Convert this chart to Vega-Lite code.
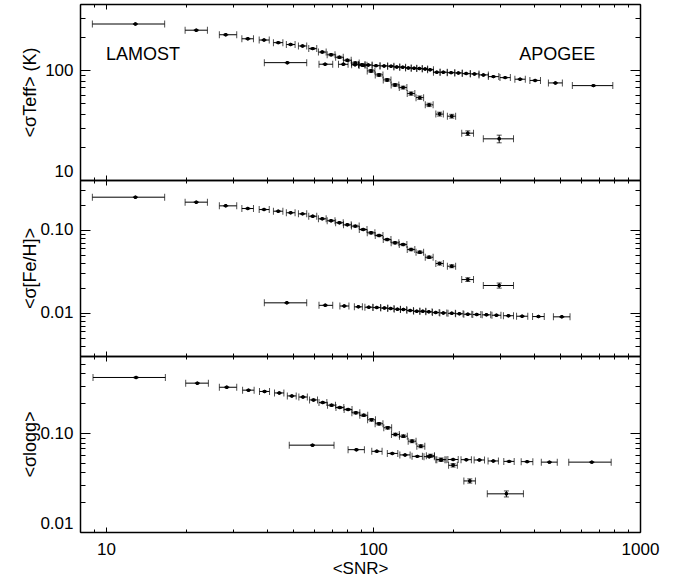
{
"$schema": "https://vega.github.io/schema/vega-lite/v6.json",
"padding": {"left": 21, "top": 3, "right": 5, "bottom": 0},
"spacing": 0,
"bounds": "flush",
"config": {
  "font": "Liberation Sans",
  "view": {"stroke": null},
  "axis": {"grid": false, "domainColor": "black", "domainWidth": 1.5, "tickColor": "black", "tickWidth": 1, "labelColor": "black", "labelFont": "Liberation Sans", "labelFontSize": 17, "titleFont": "Liberation Sans", "titleFontSize": 18, "titleFontWeight": "normal", "titleColor": "black", "labelOverlap": false}
},
"datasets": {
  "notes": [{"t": "LAMOST", "x": 10, "y": 137.5}, {"t": "APOGEE", "x": 353, "y": 137.5}],
  "teff": [
    {"s":"LAMOST","x":12.9,"xl":8.9,"xh":16.6,"y":263,"yl":260.4,"yh":265.6},
    {"s":"LAMOST","x":21.8,"xl":19.8,"xh":24.0,"y":231,"yl":228.7,"yh":233.3},
    {"s":"LAMOST","x":28.1,"xl":26.6,"xh":30.9,"y":210,"yl":207.9,"yh":212.1},
    {"s":"LAMOST","x":34.0,"xl":32.3,"xh":35.7,"y":193,"yl":191.1,"yh":194.9},
    {"s":"LAMOST","x":39.1,"xl":37.5,"xh":40.9,"y":188,"yl":186.1,"yh":189.9},
    {"s":"LAMOST","x":44.2,"xl":42.4,"xh":46.0,"y":178,"yl":175.9,"yh":180.1},
    {"s":"LAMOST","x":49.2,"xl":47.4,"xh":51.1,"y":171,"yl":169,"yh":173},
    {"s":"LAMOST","x":54.5,"xl":52.6,"xh":56.5,"y":166,"yl":164,"yh":168},
    {"s":"LAMOST","x":59.5,"xl":57.5,"xh":61.6,"y":157,"yl":154.6,"yh":159.4},
    {"s":"LAMOST","x":64.6,"xl":62.5,"xh":66.8,"y":146,"yl":143.8,"yh":148.2},
    {"s":"LAMOST","x":69.7,"xl":67.4,"xh":72.1,"y":138,"yl":135.2,"yh":140.8},
    {"s":"LAMOST","x":74.9,"xl":72.5,"xh":77.4,"y":131,"yl":128.4,"yh":133.6},
    {"s":"LAMOST","x":80.2,"xl":77.6,"xh":82.9,"y":123,"yl":120.5,"yh":125.5},
    {"s":"LAMOST","x":85.9,"xl":83.1,"xh":88.8,"y":116,"yl":113.1,"yh":118.9},
    {"s":"LAMOST","x":91.9,"xl":88.9,"xh":95.0,"y":111,"yl":108.2,"yh":113.8},
    {"s":"LAMOST","x":98.4,"xl":95.2,"xh":101.7,"y":98.4,"yl":95.4,"yh":101.4},
    {"s":"LAMOST","x":105.4,"xl":102,"xh":109,"y":90.5,"yl":87.8,"yh":93.2},
    {"s":"LAMOST","x":113,"xl":109.3,"xh":116.8,"y":81.5,"yl":79.1,"yh":83.9},
    {"s":"LAMOST","x":121,"xl":117,"xh":125,"y":73.4,"yl":71.2,"yh":75.6},
    {"s":"LAMOST","x":129.7,"xl":125.5,"xh":134,"y":69.4,"yl":67.3,"yh":71.5},
    {"s":"LAMOST","x":138.9,"xl":134.4,"xh":143.5,"y":61.2,"yl":59.1,"yh":63.3},
    {"s":"LAMOST","x":149.8,"xl":145,"xh":154.8,"y":56.2,"yl":54.2,"yh":58.2},
    {"s":"LAMOST","x":162.3,"xl":157,"xh":168,"y":48.3,"yl":46.6,"yh":50},
    {"s":"LAMOST","x":177.7,"xl":172,"xh":183.5,"y":39.8,"yl":38.2,"yh":41.4},
    {"s":"LAMOST","x":197.3,"xl":190,"xh":204,"y":38.1,"yl":36.6,"yh":39.6},
    {"s":"LAMOST","x":226.6,"xl":215,"xh":238,"y":26.7,"yl":25.4,"yh":28},
    {"s":"LAMOST","x":297,"xl":259,"xh":336,"y":23.7,"yl":21.8,"yh":25.6},
    {"s":"APOGEE","x":47.8,"xl":39.2,"xh":56.5,"y":117,"yl":116.1,"yh":117.9},
    {"s":"APOGEE","x":66.2,"xl":62.8,"xh":70.7,"y":113.2,"yl":112.3,"yh":114.1},
    {"s":"APOGEE","x":77.5,"xl":74.3,"xh":80.7,"y":113,"yl":112.1,"yh":113.9},
    {"s":"APOGEE","x":85.7,"xl":83.2,"xh":88.3,"y":112,"yl":111.1,"yh":112.9},
    {"s":"APOGEE","x":90.8,"xl":88.3,"xh":93.4,"y":111.8,"yl":110.9,"yh":112.7},
    {"s":"APOGEE","x":96.1,"xl":93.4,"xh":99.3,"y":111.4,"yl":110.5,"yh":112.3},
    {"s":"APOGEE","x":102.7,"xl":99.3,"xh":106.3,"y":109.9,"yl":109.0,"yh":110.8},
    {"s":"APOGEE","x":110.1,"xl":106.3,"xh":113.5,"y":109.3,"yl":108.4,"yh":110.2},
    {"s":"APOGEE","x":116.9,"xl":113.5,"xh":119.8,"y":108.7,"yl":107.8,"yh":109.6},
    {"s":"APOGEE","x":122.8,"xl":119.8,"xh":126,"y":107,"yl":106.1,"yh":107.9},
    {"s":"APOGEE","x":129.3,"xl":126,"xh":132.5,"y":106.4,"yl":105.5,"yh":107.3},
    {"s":"APOGEE","x":135.7,"xl":132.5,"xh":139.1,"y":104.8,"yl":104.0,"yh":105.6},
    {"s":"APOGEE","x":142.6,"xl":139.1,"xh":145.9,"y":104.2,"yl":103.4,"yh":105.0},
    {"s":"APOGEE","x":149.2,"xl":145.9,"xh":153,"y":103.4,"yl":102.6,"yh":104.2},
    {"s":"APOGEE","x":156.8,"xl":153,"xh":160.2,"y":102.6,"yl":101.8,"yh":103.4},
    {"s":"APOGEE","x":163.7,"xl":160.2,"xh":168.5,"y":101,"yl":100.2,"yh":101.8},
    {"s":"APOGEE","x":173.4,"xl":168.5,"xh":178.4,"y":95.7,"yl":94.9,"yh":96.5},
    {"s":"APOGEE","x":183.5,"xl":178.4,"xh":189.8,"y":95.7,"yl":94.9,"yh":96.5},
    {"s":"APOGEE","x":196.2,"xl":189.8,"xh":202.5,"y":94.9,"yl":94.1,"yh":95.7},
    {"s":"APOGEE","x":208.9,"xl":202.5,"xh":216,"y":94.3,"yl":93.5,"yh":95.1},
    {"s":"APOGEE","x":223.3,"xl":216,"xh":231.5,"y":93,"yl":92.3,"yh":93.7},
    {"s":"APOGEE","x":239.9,"xl":231.5,"xh":249.5,"y":92.4,"yl":91.7,"yh":93.1},
    {"s":"APOGEE","x":259.2,"xl":249.5,"xh":270.5,"y":90.5,"yl":89.8,"yh":91.2},
    {"s":"APOGEE","x":282.5,"xl":270.5,"xh":296,"y":87.3,"yl":86.6,"yh":88.0},
    {"s":"APOGEE","x":312.6,"xl":299,"xh":327,"y":85.5,"yl":84.8,"yh":86.2},
    {"s":"APOGEE","x":355.6,"xl":340,"xh":372,"y":82.7,"yl":82.0,"yh":83.4},
    {"s":"APOGEE","x":404.7,"xl":387,"xh":424,"y":80.6,"yl":80.0,"yh":81.2},
    {"s":"APOGEE","x":482.3,"xl":454,"xh":512,"y":76.5,"yl":75.9,"yh":77.1},
    {"s":"APOGEE","x":669.3,"xl":558,"xh":791,"y":72.3,"yl":71.7,"yh":72.9}
  ],
  "feh": [
    {"s":"LAMOST","x":12.9,"xl":8.9,"xh":16.6,"y":0.248,"yl":0.2455,"yh":0.2505},
    {"s":"LAMOST","x":21.8,"xl":19.8,"xh":24.0,"y":0.216,"yl":0.2138,"yh":0.2182},
    {"s":"LAMOST","x":28.1,"xl":26.6,"xh":30.9,"y":0.195,"yl":0.1931,"yh":0.1970},
    {"s":"LAMOST","x":34.0,"xl":32.3,"xh":35.7,"y":0.181,"yl":0.1792,"yh":0.1828},
    {"s":"LAMOST","x":39.1,"xl":37.5,"xh":40.9,"y":0.176,"yl":0.1742,"yh":0.1778},
    {"s":"LAMOST","x":44.2,"xl":42.4,"xh":46.0,"y":0.168,"yl":0.1660,"yh":0.1700},
    {"s":"LAMOST","x":49.2,"xl":47.4,"xh":51.1,"y":0.161,"yl":0.1591,"yh":0.1629},
    {"s":"LAMOST","x":54.5,"xl":52.6,"xh":56.5,"y":0.156,"yl":0.1541,"yh":0.1579},
    {"s":"LAMOST","x":59.5,"xl":57.5,"xh":61.6,"y":0.146,"yl":0.1438,"yh":0.1482},
    {"s":"LAMOST","x":64.6,"xl":62.5,"xh":66.8,"y":0.136,"yl":0.1340,"yh":0.1380},
    {"s":"LAMOST","x":69.7,"xl":67.4,"xh":72.1,"y":0.129,"yl":0.1264,"yh":0.1316},
    {"s":"LAMOST","x":74.9,"xl":72.5,"xh":77.4,"y":0.122,"yl":0.1196,"yh":0.1244},
    {"s":"LAMOST","x":80.2,"xl":77.6,"xh":82.9,"y":0.115,"yl":0.1127,"yh":0.1173},
    {"s":"LAMOST","x":85.9,"xl":83.1,"xh":88.8,"y":0.111,"yl":0.1082,"yh":0.1138},
    {"s":"LAMOST","x":91.9,"xl":88.9,"xh":95.0,"y":0.101,"yl":0.0985,"yh":0.1035},
    {"s":"LAMOST","x":98.4,"xl":95.2,"xh":101.7,"y":0.0921,"yl":0.0893,"yh":0.0949},
    {"s":"LAMOST","x":105.4,"xl":102,"xh":109,"y":0.0855,"yl":0.0829,"yh":0.0881},
    {"s":"LAMOST","x":113,"xl":109.3,"xh":116.8,"y":0.0764,"yl":0.0741,"yh":0.0787},
    {"s":"LAMOST","x":121,"xl":117,"xh":125,"y":0.0698,"yl":0.0677,"yh":0.0719},
    {"s":"LAMOST","x":129.7,"xl":125.5,"xh":134,"y":0.0665,"yl":0.0645,"yh":0.0685},
    {"s":"LAMOST","x":138.9,"xl":134.4,"xh":143.5,"y":0.0579,"yl":0.0559,"yh":0.0599},
    {"s":"LAMOST","x":149.8,"xl":145,"xh":154.8,"y":0.0537,"yl":0.0518,"yh":0.0556},
    {"s":"LAMOST","x":162.3,"xl":157,"xh":168,"y":0.0467,"yl":0.0451,"yh":0.0483},
    {"s":"LAMOST","x":177.7,"xl":172,"xh":183.5,"y":0.0392,"yl":0.0376,"yh":0.0408},
    {"s":"LAMOST","x":197.3,"xl":190,"xh":204,"y":0.0364,"yl":0.0349,"yh":0.0379},
    {"s":"LAMOST","x":226.6,"xl":215,"xh":238,"y":0.0251,"yl":0.0238,"yh":0.0264},
    {"s":"LAMOST","x":297,"xl":259,"xh":336,"y":0.0213,"yl":0.0198,"yh":0.0228},
    {"s":"APOGEE","x":47.6,"xl":39.2,"xh":56.5,"y":0.01315,"yl":0.01302,"yh":0.01328},
    {"s":"APOGEE","x":66.3,"xl":62.8,"xh":70.7,"y":0.01227,"yl":0.01215,"yh":0.01239},
    {"s":"APOGEE","x":78.1,"xl":75.2,"xh":81.3,"y":0.01204,"yl":0.01192,"yh":0.01216},
    {"s":"APOGEE","x":88.2,"xl":85.2,"xh":91.3,"y":0.01177,"yl":0.01165,"yh":0.01189},
    {"s":"APOGEE","x":96.5,"xl":93.3,"xh":99.9,"y":0.01164,"yl":0.01152,"yh":0.01176},
    {"s":"APOGEE","x":103.4,"xl":100.1,"xh":106.8,"y":0.01154,"yl":0.01142,"yh":0.01166},
    {"s":"APOGEE","x":110.4,"xl":107,"xh":113.6,"y":0.01138,"yl":0.01127,"yh":0.01149},
    {"s":"APOGEE","x":116.6,"xl":113.6,"xh":119.9,"y":0.01122,"yl":0.01111,"yh":0.01133},
    {"s":"APOGEE","x":123.5,"xl":120.1,"xh":126.7,"y":0.0110,"yl":0.01089,"yh":0.01111},
    {"s":"APOGEE","x":130,"xl":126.8,"xh":133.8,"y":0.01092,"yl":0.01081,"yh":0.01103},
    {"s":"APOGEE","x":137.8,"xl":134,"xh":141.8,"y":0.01062,"yl":0.01051,"yh":0.01073},
    {"s":"APOGEE","x":145.9,"xl":142,"xh":149.8,"y":0.01041,"yl":0.01031,"yh":0.01051},
    {"s":"APOGEE","x":153.7,"xl":149.9,"xh":157.7,"y":0.01038,"yl":0.01028,"yh":0.01048},
    {"s":"APOGEE","x":161.9,"xl":157.8,"xh":166.5,"y":0.01024,"yl":0.01014,"yh":0.01034},
    {"s":"APOGEE","x":171.9,"xl":167,"xh":177,"y":0.01004,"yl":0.00994,"yh":0.01014},
    {"s":"APOGEE","x":183.5,"xl":178,"xh":189,"y":0.00994,"yl":0.00984,"yh":0.01004},
    {"s":"APOGEE","x":197.3,"xl":191,"xh":203.5,"y":0.00982,"yl":0.00972,"yh":0.00992},
    {"s":"APOGEE","x":210.7,"xl":204,"xh":217.5,"y":0.00971,"yl":0.00961,"yh":0.00981},
    {"s":"APOGEE","x":226.6,"xl":219,"xh":234.5,"y":0.00958,"yl":0.00948,"yh":0.00968},
    {"s":"APOGEE","x":244.8,"xl":236.5,"xh":253.5,"y":0.0095,"yl":0.0094,"yh":0.0096},
    {"s":"APOGEE","x":266,"xl":256.5,"xh":276,"y":0.00942,"yl":0.00933,"yh":0.00951},
    {"s":"APOGEE","x":290,"xl":279,"xh":301.5,"y":0.00931,"yl":0.00922,"yh":0.0094},
    {"s":"APOGEE","x":321.6,"xl":308,"xh":336,"y":0.00919,"yl":0.0091,"yh":0.00928},
    {"s":"APOGEE","x":361.9,"xl":345,"xh":380,"y":0.00906,"yl":0.00897,"yh":0.00915},
    {"s":"APOGEE","x":416.5,"xl":396,"xh":438,"y":0.00898,"yl":0.00889,"yh":0.00907},
    {"s":"APOGEE","x":509.6,"xl":474,"xh":547,"y":0.00891,"yl":0.00882,"yh":0.009}
  ],
  "logg": [
    {"s":"LAMOST","x":12.97,"xl":8.95,"xh":16.7,"y":0.364,"yl":0.3604,"yh":0.3676},
    {"s":"LAMOST","x":22.0,"xl":19.9,"xh":24.2,"y":0.319,"yl":0.3158,"yh":0.3222},
    {"s":"LAMOST","x":28.35,"xl":26.6,"xh":30.9,"y":0.290,"yl":0.2871,"yh":0.2929},
    {"s":"LAMOST","x":34.2,"xl":32.5,"xh":35.9,"y":0.271,"yl":0.2683,"yh":0.2737},
    {"s":"LAMOST","x":39.3,"xl":37.6,"xh":41.0,"y":0.263,"yl":0.2604,"yh":0.2656},
    {"s":"LAMOST","x":44.6,"xl":42.8,"xh":46.4,"y":0.254,"yl":0.2510,"yh":0.2570},
    {"s":"LAMOST","x":49.7,"xl":47.8,"xh":51.6,"y":0.237,"yl":0.2342,"yh":0.2398},
    {"s":"LAMOST","x":54.7,"xl":52.8,"xh":56.8,"y":0.231,"yl":0.2282,"yh":0.2338},
    {"s":"LAMOST","x":59.9,"xl":57.9,"xh":62.0,"y":0.216,"yl":0.2128,"yh":0.2192},
    {"s":"LAMOST","x":64.9,"xl":62.8,"xh":67.2,"y":0.203,"yl":0.2000,"yh":0.2060},
    {"s":"LAMOST","x":70,"xl":67.6,"xh":72.4,"y":0.191,"yl":0.1872,"yh":0.1948},
    {"s":"LAMOST","x":75.2,"xl":72.7,"xh":77.8,"y":0.181,"yl":0.1774,"yh":0.1846},
    {"s":"LAMOST","x":80.7,"xl":78,"xh":83.5,"y":0.173,"yl":0.1695,"yh":0.1765},
    {"s":"LAMOST","x":86.3,"xl":83.4,"xh":89.3,"y":0.160,"yl":0.1560,"yh":0.1640},
    {"s":"LAMOST","x":92.4,"xl":89.3,"xh":95.6,"y":0.151,"yl":0.1472,"yh":0.1548},
    {"s":"LAMOST","x":98.8,"xl":95.5,"xh":102.2,"y":0.136,"yl":0.1319,"yh":0.1401},
    {"s":"LAMOST","x":105.4,"xl":101.9,"xh":109,"y":0.124,"yl":0.1203,"yh":0.1277},
    {"s":"LAMOST","x":113.6,"xl":109.8,"xh":117.5,"y":0.113,"yl":0.1096,"yh":0.1164},
    {"s":"LAMOST","x":121.3,"xl":117.3,"xh":125.5,"y":0.0967,"yl":0.0938,"yh":0.0996},
    {"s":"LAMOST","x":130,"xl":125.7,"xh":134.5,"y":0.0929,"yl":0.0901,"yh":0.0957},
    {"s":"LAMOST","x":140.1,"xl":135.5,"xh":145,"y":0.0827,"yl":0.0798,"yh":0.0856},
    {"s":"LAMOST","x":151.1,"xl":146,"xh":156.4,"y":0.0736,"yl":0.0710,"yh":0.0762},
    {"s":"LAMOST","x":164.1,"xl":158.5,"xh":170,"y":0.059,"yl":0.0569,"yh":0.0611},
    {"s":"LAMOST","x":179.9,"xl":173.5,"xh":186,"y":0.0538,"yl":0.0516,"yh":0.0560},
    {"s":"LAMOST","x":199.6,"xl":192,"xh":207,"y":0.0472,"yl":0.0453,"yh":0.0491},
    {"s":"LAMOST","x":230.5,"xl":219,"xh":242,"y":0.0328,"yl":0.0312,"yh":0.0344},
    {"s":"LAMOST","x":316,"xl":268,"xh":366,"y":0.0243,"yl":0.0226,"yh":0.0260},
    {"s":"APOGEE","x":59.4,"xl":48.6,"xh":71.5,"y":0.0754,"yl":0.0746,"yh":0.0762},
    {"s":"APOGEE","x":86.7,"xl":80.7,"xh":92.9,"y":0.0679,"yl":0.0672,"yh":0.0686},
    {"s":"APOGEE","x":103.4,"xl":99,"xh":108.2,"y":0.0653,"yl":0.0646,"yh":0.066},
    {"s":"APOGEE","x":118.1,"xl":113.2,"xh":123.9,"y":0.0622,"yl":0.0616,"yh":0.0628},
    {"s":"APOGEE","x":131.9,"xl":126.1,"xh":137.8,"y":0.0601,"yl":0.0595,"yh":0.0607},
    {"s":"APOGEE","x":146.6,"xl":140.1,"xh":153.2,"y":0.0581,"yl":0.0575,"yh":0.0587},
    {"s":"APOGEE","x":162.5,"xl":155.3,"xh":169.8,"y":0.0577,"yl":0.0571,"yh":0.0583},
    {"s":"APOGEE","x":179.9,"xl":172,"xh":188,"y":0.0538,"yl":0.0533,"yh":0.0543},
    {"s":"APOGEE","x":199.6,"xl":190.8,"xh":208.6,"y":0.054,"yl":0.0535,"yh":0.0545},
    {"s":"APOGEE","x":223.6,"xl":213.7,"xh":233.7,"y":0.0538,"yl":0.0533,"yh":0.0543},
    {"s":"APOGEE","x":250.4,"xl":239.3,"xh":261.7,"y":0.0534,"yl":0.0529,"yh":0.0539},
    {"s":"APOGEE","x":282.3,"xl":269.8,"xh":295,"y":0.0522,"yl":0.0517,"yh":0.0527},
    {"s":"APOGEE","x":323.5,"xl":309,"xh":338,"y":0.0517,"yl":0.0512,"yh":0.0522},
    {"s":"APOGEE","x":377.9,"xl":359,"xh":397,"y":0.0514,"yl":0.0509,"yh":0.0519},
    {"s":"APOGEE","x":457.9,"xl":427,"xh":490,"y":0.0508,"yl":0.0503,"yh":0.0513},
    {"s":"APOGEE","x":660,"xl":541,"xh":780,"y":0.0508,"yl":0.0503,"yh":0.0513}
  ]
},
"vconcat": [
  {
    "width": 560, "height": 176,
    "data": {"name": "teff"},
    "layer": [
      {"mark": {"type": "errorbar", "ticks": true, "size": 7, "thickness": 1, "color": "black"},
       "encoding": {
         "x": {"field": "xl", "type": "quantitative", "scale": {"type": "log", "domain": [8, 1000], "nice": false}, "axis": null},
         "x2": {"field": "xh"},
         "y": {"field": "y", "type": "quantitative", "scale": {"type": "log", "domain": [10, 400], "nice": false}, "axis": null}}},
      {"mark": {"type": "errorbar", "ticks": true, "size": 5, "thickness": 1, "color": "black"},
       "encoding": {
         "x": {"field": "x", "type": "quantitative", "scale": {"type": "log", "domain": [8, 1000], "nice": false}, "axis": null},
         "y": {"field": "yl", "type": "quantitative", "scale": {"type": "log", "domain": [10, 400], "nice": false}, "axis": null},
         "y2": {"field": "yh"}}},
      {"mark": {"type": "circle", "size": 12, "color": "black", "opacity": 1},
       "encoding": {
         "x": {"field": "x", "type": "quantitative", "scale": {"type": "log", "domain": [8, 1000], "nice": false},
               "axis": {"orient": "bottom", "values": [8,9,10,20,30,40,50,60,70,80,90,100,200,300,400,500,600,700,800,900,1000], "labels": false, "title": null,
                        "tickSize": {"condition": {"test": "datum.value == 10 || datum.value == 100 || datum.value == 1000", "value": -5}, "value": -3}}},
         "y": {"field": "y", "type": "quantitative", "scale": {"type": "log", "domain": [10, 400], "nice": false},
               "axis": {"orient": "left", "values": [10,20,30,40,50,60,70,80,90,100,200,300,400],
                        "labelExpr": "(datum.value == 10 || datum.value == 100) ? format(datum.value, 'd') : ''",
                        "tickSize": {"condition": {"test": "datum.value == 10 || datum.value == 100", "value": -10}, "value": -5},
                        "labelPadding": 17, "labelFlush": true,
                        "title": "<σTeff> (K)", "titleX": -50, "titleY": 88, "titleAngle": -90, "titleBaseline": "middle", "titleAlign": "center"}}}},
      {"mark": {"type": "circle", "size": 12, "color": "black", "opacity": 1},
       "encoding": {
         "x": {"field": "x", "type": "quantitative", "scale": {"type": "log", "domain": [8, 1000], "nice": false},
               "axis": {"orient": "top", "values": [8,9,10,20,30,40,50,60,70,80,90,100,200,300,400,500,600,700,800,900,1000], "labels": false, "title": null,
                        "tickSize": {"condition": {"test": "datum.value == 10 || datum.value == 100 || datum.value == 1000", "value": -5}, "value": -3}}},
         "y": {"field": "y", "type": "quantitative", "scale": {"type": "log", "domain": [10, 400], "nice": false},
               "axis": {"orient": "right", "values": [10,20,30,40,50,60,70,80,90,100,200,300,400], "labels": false, "title": null,
                        "tickSize": {"condition": {"test": "datum.value == 10 || datum.value == 100", "value": -10}, "value": -5}}}}},
      {"data": {"name": "notes"},
       "mark": {"type": "text", "align": "left", "baseline": "middle", "fontSize": 18, "color": "black", "font": "Liberation Sans"},
       "encoding": {
         "x": {"field": "x", "type": "quantitative", "scale": {"type": "log", "domain": [8, 1000], "nice": false}, "axis": null},
         "y": {"field": "y", "type": "quantitative", "scale": {"type": "log", "domain": [10, 400], "nice": false}, "axis": null},
         "text": {"field": "t"}}}
    ],
    "resolve": {"axis": {"x": "independent", "y": "independent"}}
  },
  {
    "width": 560, "height": 176,
    "data": {"name": "feh"},
    "layer": [
      {"mark": {"type": "errorbar", "ticks": true, "size": 7, "thickness": 1, "color": "black"},
       "encoding": {
         "x": {"field": "xl", "type": "quantitative", "scale": {"type": "log", "domain": [8, 1000], "nice": false}, "axis": null},
         "x2": {"field": "xh"},
         "y": {"field": "y", "type": "quantitative", "scale": {"type": "log", "domain": [0.003, 0.4], "nice": false}, "axis": null}}},
      {"mark": {"type": "errorbar", "ticks": true, "size": 5, "thickness": 1, "color": "black"},
       "encoding": {
         "x": {"field": "x", "type": "quantitative", "scale": {"type": "log", "domain": [8, 1000], "nice": false}, "axis": null},
         "y": {"field": "yl", "type": "quantitative", "scale": {"type": "log", "domain": [0.003, 0.4], "nice": false}, "axis": null},
         "y2": {"field": "yh"}}},
      {"mark": {"type": "circle", "size": 12, "color": "black", "opacity": 1},
       "encoding": {
         "x": {"field": "x", "type": "quantitative", "scale": {"type": "log", "domain": [8, 1000], "nice": false},
               "axis": {"orient": "bottom", "values": [8,9,10,20,30,40,50,60,70,80,90,100,200,300,400,500,600,700,800,900,1000], "labels": false, "title": null,
                        "tickSize": {"condition": {"test": "datum.value == 10 || datum.value == 100 || datum.value == 1000", "value": -5}, "value": -3}}},
         "y": {"field": "y", "type": "quantitative", "scale": {"type": "log", "domain": [0.003, 0.4], "nice": false},
               "axis": {"orient": "left", "values": [0.003,0.004,0.005,0.006,0.007,0.008,0.009,0.01,0.02,0.03,0.04,0.05,0.06,0.07,0.08,0.09,0.1,0.2,0.3,0.4],
                        "labelExpr": "(datum.value == 0.1 || datum.value == 0.01) ? format(datum.value, '.2f') : ''",
                        "tickSize": {"condition": {"test": "datum.value == 0.1 || datum.value == 0.01", "value": -10}, "value": -5},
                        "labelPadding": 17, "labelFlush": true,
                        "title": "<σ[Fe/H]>", "titleX": -50, "titleY": 88, "titleAngle": -90, "titleBaseline": "middle", "titleAlign": "center"}}}},
      {"mark": {"type": "circle", "size": 12, "color": "black", "opacity": 1},
       "encoding": {
         "x": {"field": "x", "type": "quantitative", "scale": {"type": "log", "domain": [8, 1000], "nice": false},
               "axis": {"orient": "top", "values": [8,9,10,20,30,40,50,60,70,80,90,100,200,300,400,500,600,700,800,900,1000], "labels": false, "title": null,
                        "tickSize": {"condition": {"test": "datum.value == 10 || datum.value == 100 || datum.value == 1000", "value": -5}, "value": -3}}},
         "y": {"field": "y", "type": "quantitative", "scale": {"type": "log", "domain": [0.003, 0.4], "nice": false},
               "axis": {"orient": "right", "values": [0.003,0.004,0.005,0.006,0.007,0.008,0.009,0.01,0.02,0.03,0.04,0.05,0.06,0.07,0.08,0.09,0.1,0.2,0.3,0.4], "labels": false, "title": null,
                        "tickSize": {"condition": {"test": "datum.value == 0.1 || datum.value == 0.01", "value": -10}, "value": -5}}}}}
    ],
    "resolve": {"axis": {"x": "independent", "y": "independent"}}
  },
  {
    "width": 560, "height": 176,
    "data": {"name": "logg"},
    "layer": [
      {"mark": {"type": "errorbar", "ticks": true, "size": 7, "thickness": 1, "color": "black"},
       "encoding": {
         "x": {"field": "xl", "type": "quantitative", "scale": {"type": "log", "domain": [8, 1000], "nice": false}, "axis": null},
         "x2": {"field": "xh"},
         "y": {"field": "y", "type": "quantitative", "scale": {"type": "log", "domain": [0.01, 0.6], "nice": false}, "axis": null}}},
      {"mark": {"type": "errorbar", "ticks": true, "size": 5, "thickness": 1, "color": "black"},
       "encoding": {
         "x": {"field": "x", "type": "quantitative", "scale": {"type": "log", "domain": [8, 1000], "nice": false}, "axis": null},
         "y": {"field": "yl", "type": "quantitative", "scale": {"type": "log", "domain": [0.01, 0.6], "nice": false}, "axis": null},
         "y2": {"field": "yh"}}},
      {"mark": {"type": "circle", "size": 12, "color": "black", "opacity": 1},
       "encoding": {
         "x": {"field": "x", "type": "quantitative", "scale": {"type": "log", "domain": [8, 1000], "nice": false},
               "axis": {"orient": "bottom", "values": [8,9,10,20,30,40,50,60,70,80,90,100,200,300,400,500,600,700,800,900,1000],
                        "labelExpr": "(datum.value == 10 || datum.value == 100 || datum.value == 1000) ? format(datum.value, 'd') : ''",
                        "labelPadding": 14, "labelFlush": false,
                        "tickSize": {"condition": {"test": "datum.value == 10 || datum.value == 100 || datum.value == 1000", "value": -5}, "value": -3},
                        "title": "<SNR>", "titleX": 280, "titleY": 36, "titleBaseline": "middle", "titleAlign": "center", "titleFontSize": 17}},
         "y": {"field": "y", "type": "quantitative", "scale": {"type": "log", "domain": [0.01, 0.6], "nice": false},
               "axis": {"orient": "left", "values": [0.01,0.02,0.03,0.04,0.05,0.06,0.07,0.08,0.09,0.1,0.2,0.3,0.4,0.5,0.6],
                        "labelExpr": "(datum.value == 0.1 || datum.value == 0.01) ? format(datum.value, '.2f') : ''",
                        "tickSize": {"condition": {"test": "datum.value == 0.1 || datum.value == 0.01", "value": -10}, "value": -5},
                        "labelPadding": 17, "labelFlush": true,
                        "title": "<σlogg>", "titleX": -50, "titleY": 88, "titleAngle": -90, "titleBaseline": "middle", "titleAlign": "center"}}}},
      {"mark": {"type": "circle", "size": 12, "color": "black", "opacity": 1},
       "encoding": {
         "x": {"field": "x", "type": "quantitative", "scale": {"type": "log", "domain": [8, 1000], "nice": false},
               "axis": {"orient": "top", "values": [8,9,10,20,30,40,50,60,70,80,90,100,200,300,400,500,600,700,800,900,1000], "labels": false, "title": null,
                        "tickSize": {"condition": {"test": "datum.value == 10 || datum.value == 100 || datum.value == 1000", "value": -5}, "value": -3}}},
         "y": {"field": "y", "type": "quantitative", "scale": {"type": "log", "domain": [0.01, 0.6], "nice": false},
               "axis": {"orient": "right", "values": [0.01,0.02,0.03,0.04,0.05,0.06,0.07,0.08,0.09,0.1,0.2,0.3,0.4,0.5,0.6], "labels": false, "title": null,
                        "tickSize": {"condition": {"test": "datum.value == 0.1 || datum.value == 0.01", "value": -10}, "value": -5}}}}}
    ],
    "resolve": {"axis": {"x": "independent", "y": "independent"}}
  }
]
}
